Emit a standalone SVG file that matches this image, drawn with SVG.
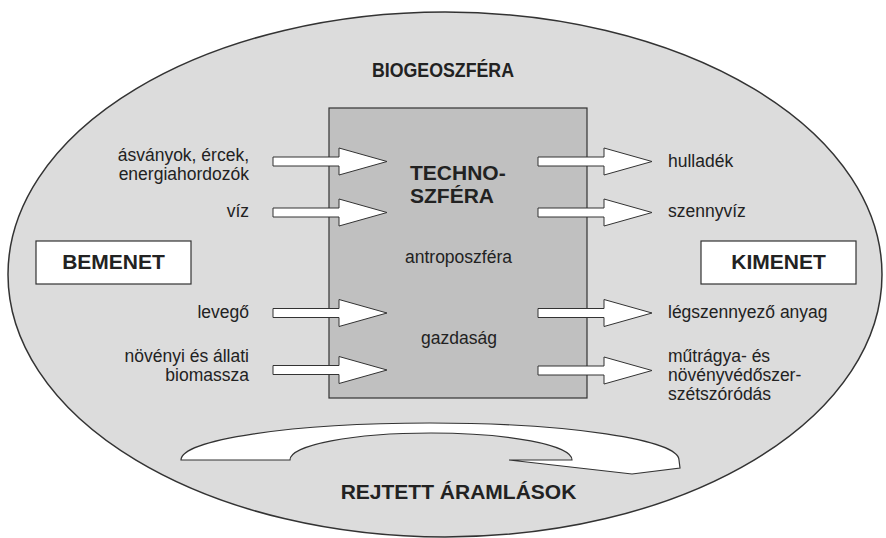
<svg xmlns="http://www.w3.org/2000/svg" xmlns:xlink="http://www.w3.org/1999/xlink" width="886" height="538" viewBox="0 0 886 538">
<style>
text{font-family:"Liberation Sans",Arial,sans-serif;fill:#222;}
.t{font-size:17.5px;}
.b{font-size:21px;font-weight:bold;}
.l{text-anchor:end;}
.m{text-anchor:middle;}
.arr{fill:#fff;stroke:#333;stroke-width:1;}
</style>
<defs>
<path id="arrow" d="M0,-4.5 H66 V-13.5 L114,0 L66,13.5 V4.5 H0 Z"/>
</defs>
<rect width="886" height="538" fill="#fff"/>
<g id="biogeoszfera">
<ellipse cx="445" cy="274.5" rx="437" ry="262.5" fill="#dcdcdc" stroke="#333" stroke-width="1.5"/>
<text class="b m" x="443" y="77" style="font-size:20px" textLength="142" lengthAdjust="spacingAndGlyphs">BIOGEOSZFÉRA</text>
</g>
<g id="technoszfera">
<rect x="329" y="108" width="258" height="290" fill="#c0c0c0" stroke="#333" stroke-width="1.2"/>
<text class="b" x="410" y="180">TECHNO-</text>
<text class="b" x="410" y="203">SZFÉRA</text>
<text class="t m" x="458.5" y="263">antroposzféra</text>
<text class="t m" x="459" y="344">gazdaság</text>
</g>
<g id="bemenet">
<rect x="36" y="241" width="155" height="43" fill="#fff" stroke="#333" stroke-width="1.2"/>
<text class="b m" x="113.5" y="269">BEMENET</text>
</g>
<g id="kimenet">
<rect x="701" y="241" width="155" height="43" fill="#fff" stroke="#333" stroke-width="1.2"/>
<text class="b m" x="778.5" y="269">KIMENET</text>
</g>
<g id="inputs">
<text class="t l" x="249" y="161">ásványok, ércek,</text>
<text class="t l" x="249" y="180">energiahordozók</text>
<text class="t l" x="249" y="217">víz</text>
<text class="t l" x="249" y="318">levegő</text>
<text class="t l" x="249" y="362">növényi és állati</text>
<text class="t l" x="249" y="381">biomassza</text>
</g>
<g id="outputs">
<text class="t" x="668" y="167">hulladék</text>
<text class="t" x="668" y="217">szennyvíz</text>
<text class="t" x="668" y="318">légszennyező anyag</text>
<text class="t" x="668" y="362">műtrágya- és</text>
<text class="t" x="668" y="381">növényvédőszer-</text>
<text class="t" x="668" y="400">szétszóródás</text>
</g>
<g id="connectors">
<use xlink:href="#arrow" href="#arrow" class="arr" x="273" y="161.5"/>
<use xlink:href="#arrow" href="#arrow" class="arr" x="273" y="212.5"/>
<use xlink:href="#arrow" href="#arrow" class="arr" x="273" y="313"/>
<use xlink:href="#arrow" href="#arrow" class="arr" x="273" y="370"/>
<use xlink:href="#arrow" href="#arrow" class="arr" x="538" y="161.5"/>
<use xlink:href="#arrow" href="#arrow" class="arr" x="538" y="212.5"/>
<use xlink:href="#arrow" href="#arrow" class="arr" x="538" y="313"/>
<use xlink:href="#arrow" href="#arrow" class="arr" x="538" y="370.5"/>
</g>
<g id="rejtett">
<path d="M181,460 A249,37 0 0 1 679,460 L680,468 L632,474 L509,460 L572,460 A141,27 0 0 0 290,460 Z" fill="#fff" stroke="#333" stroke-width="1.2" stroke-linejoin="miter"/>
<text class="b m" x="458.5" y="499">REJTETT ÁRAMLÁSOK</text>
</g>
</svg>
